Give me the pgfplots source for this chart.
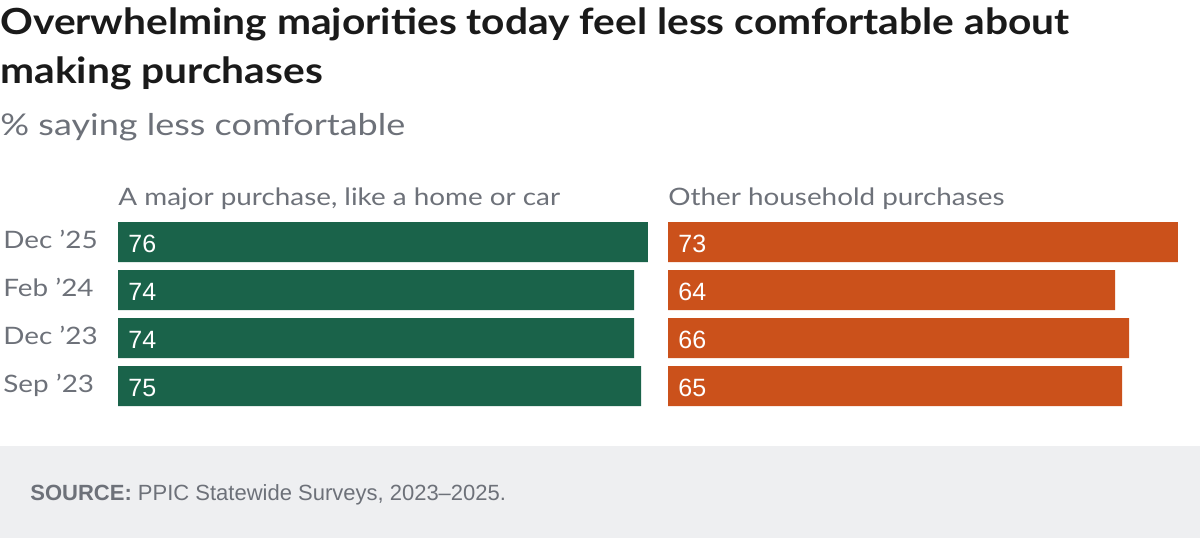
\documentclass[border=0pt]{standalone}
\usepackage{fontspec}
\setmainfont{Lato}[FakeStretch=1.16]
\newfontfamily\titlefont{Lato}[FakeStretch=1.13]
\newfontfamily\subfont{Lato}[FakeStretch=1.2]
\newfontfamily\arial{Liberation Sans}
\usepackage{pgfplots}
\pgfplotsset{compat=1.18}
\usepackage{pgfplotstable}
\definecolor{ppgreen}{HTML}{1A634A}
\definecolor{pporange}{HTML}{CB511B}
\definecolor{ppgrey}{HTML}{6D7179}
\definecolor{pptitle}{HTML}{1A1A1A}
\definecolor{ppfoot}{HTML}{EEEFF1}

\pgfplotstableread{
y v
3 76
2 74
1 74
0 75
}\major
\pgfplotstableread{
y v
3 73
2 64
1 66
0 65
}\other

\pgfplotsset{
  panel/.style={
    scale only axis,
    height=96pt,
    ymin=-0.5, ymax=3.5,
    xmin=0,
    axis line style={draw=none},
    xtick=\empty,
    major tick length=0pt,
    clip=false,
    /pgf/number format/assume math mode=true,
  },
  valuelabels/.style={
    draw=none, mark=none,
    nodes near coords={\pgfmathprintnumber{\pgfplotspointmeta}},
    point meta=explicit,
    nodes near coords style={anchor=base west, inner sep=0pt, xshift=5pt, yshift=-5pt,
      text=white, font=\arial\fontsize{12.5}{14}\selectfont},
  },
}

\begin{document}
\begin{tikzpicture}[x=0.5pt,y=-0.5pt]
\path[use as bounding box] (0,0) rectangle (1200,538);
\fill[ppfoot] (0,446) rectangle (1200,538);

\node[anchor=base west, inner sep=0pt, text=pptitle, font=\titlefont\fontsize{18}{24}\selectfont\bfseries] at (0,34) {Overwhelming majorities today feel less comfortable about};
\node[anchor=base west, inner sep=0pt, text=pptitle, font=\titlefont\fontsize{18}{24}\selectfont\bfseries] at (0,83) {making purchases};
\node[anchor=base west, inner sep=0pt, text=ppgrey, font=\subfont\fontsize{15}{18}\selectfont] at (0,135) {\% saying less comfortable};

\node[anchor=base west, inner sep=0pt, text=ppgrey, font=\fontsize{12}{14}\selectfont] at (118,205) {A major purchase, like a home or car};
\node[anchor=base west, inner sep=0pt, text=ppgrey, font=\fontsize{12}{14}\selectfont] at (668,205) {Other household purchases};

\node[anchor=base west, inner sep=0pt, text=ppgrey, font=\arial\fontsize{11}{12}\selectfont] at (30,500) {\textbf{SOURCE:} PPIC Statewide Surveys, 2023–2025.};

\begin{axis}[panel,
  at={(59pt,-109pt)}, anchor=north west,
  width=265pt, xmax=76,
  ytick={0,1,2,3},
  yticklabels={Sep ’23, Dec ’23, Feb ’24, Dec ’25},
  yticklabel style={anchor=base west, inner sep=0pt,
    xshift=-57.5pt, yshift=-3pt, text=ppgrey, font=\fontsize{12}{14}\selectfont},
]
\addplot[xbar, bar shift=0pt, bar width=20pt, fill=ppgreen, draw=none] table[x=v, y=y] {\major};
\addplot[valuelabels] table[x expr=0, y=y, meta=v] {\major};
\end{axis}

\begin{axis}[panel,
  at={(334pt,-109pt)}, anchor=north west,
  width=255pt, xmax=73,
  ytick=\empty,
]
\addplot[xbar, bar shift=0pt, bar width=20pt, fill=pporange, draw=none] table[x=v, y=y] {\other};
\addplot[valuelabels] table[x expr=0, y=y, meta=v] {\other};
\end{axis}
\end{tikzpicture}
\end{document}
